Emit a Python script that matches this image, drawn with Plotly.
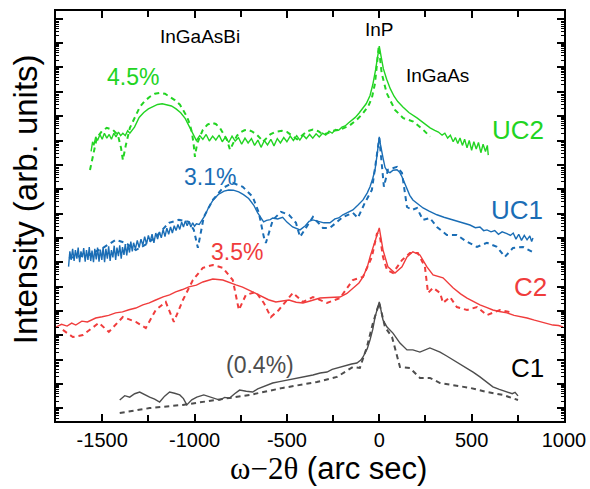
import plotly.graph_objects as go
import numpy as np

# ---------------- data (x in arc sec, y as log10 intensity, arb. units) ----------------
uc2_meas_x = [-1560, -1552, -1545, -1535, -1525, -1512, -1500, -1488, -1475, -1462, -1450, -1437, -1425,
              -1412, -1400, -1388, -1375, -1362, -1350, -1337, -1325, -1300, -1275, -1250, -1225, -1200,
              -1175, -1150, -1125, -1100, -1075, -1050, -1025, -1005,
              -990, -972, -955, -937, -920, -902, -885, -867, -850, -832, -815, -797, -780, -762, -745,
              -727, -710, -692, -675, -657, -640, -622, -605, -587, -570, -552, -535, -517, -500, -482,
              -465, -447, -430, -412, -395, -377, -360, -342, -325, -307, -290, -272, -255, -237, -220,
              -202, -185, -167, -150, -130, -110, -90, -70, -50, -35, -20, -10, 0, 10, 22, 40, 60, 80,
              100, 128, 160, 204, 240, 275, 300, 320, 340, 355, 370, 385, 400, 412, 425, 437, 450, 462,
              475, 487, 500, 512, 525, 537, 550, 562, 575, 585, 590]
uc2_meas_log = [10.55, 10.95, 10.80, 11.15, 11.00, 11.25, 11.05, 11.30, 11.10, 11.25, 11.05, 11.30, 11.15,
                11.35, 11.20, 11.30, 11.20, 11.40, 11.30, 11.45, 11.55, 11.95, 12.15, 12.30, 12.40, 12.48,
                12.51, 12.48, 12.42, 12.30, 12.14, 11.90, 11.55, 11.25,
                11.00, 11.20, 11.05, 11.25, 10.98, 11.18, 11.02, 11.22, 10.95, 11.15, 10.92, 11.18, 10.98,
                11.12, 10.85, 11.10, 10.90, 11.08, 10.80, 11.02, 10.72, 11.00, 10.82, 11.05, 10.78, 11.08,
                10.90, 11.12, 10.95, 11.18, 11.00, 11.20, 11.02, 11.22, 11.08, 11.25, 11.10, 11.28, 11.15,
                11.30, 11.22, 11.38, 11.30, 11.45, 11.42, 11.55, 11.60, 11.72, 11.82, 11.95, 12.12, 12.30,
                12.52, 12.85, 13.30, 13.90, 14.40, 14.88, 14.45, 13.95, 13.52, 13.12, 12.82, 12.60, 12.38,
                12.15, 11.93, 11.72, 11.52, 11.42, 11.35, 11.22, 11.30, 11.10, 11.22, 10.95, 11.12, 10.88,
                11.10, 10.80, 11.05, 10.70, 11.00, 10.60, 10.95, 10.65, 10.92, 10.50, 10.85, 10.55, 10.80,
                10.40]

uc2_sim_x = [-1566, -1550, -1529, -1500, -1475, -1442, -1415, -1398, -1388, -1372, -1350, -1320, -1296,
             -1270, -1242, -1215, -1188, -1160, -1133, -1105, -1079, -1060, -1041, -1025, -1014, -1005,
             -998, -990, -982, -955, -930, -906, -885, -863, -845, -825, -808, -795, -787, -770, -754,
             -730, -711, -690, -662, -645, -630, -610, -590, -560, -527, -500, -470, -445, -420, -390,
             -359, -330, -305, -280, -250, -213, -160, -122, -90, -60, -40, -23, -3, 13, 40, 85, 130,
             184, 238, 275]
uc2_sim_log = [9.79, 10.41, 11.11, 11.40, 11.52, 11.44, 11.23, 10.70, 10.20, 10.81, 11.52, 12.00, 12.38,
               12.62, 12.80, 12.92, 12.96, 12.92, 12.80, 12.65, 12.47, 12.25, 11.98, 11.65, 11.32, 10.85,
               10.33, 10.70, 10.95, 11.44, 11.65, 11.73, 11.68, 11.52, 11.30, 11.03, 10.62, 10.85, 10.95,
               11.20, 11.32, 11.42, 11.44, 11.38, 11.23, 11.10, 10.95, 11.10, 11.25, 11.36, 11.40, 11.35,
               11.20, 11.05, 11.20, 11.38, 11.45, 11.38, 11.25, 11.30, 11.40, 11.44, 11.62, 11.85, 12.10,
               12.40, 12.75, 13.35, 14.86, 13.77, 12.95, 12.26, 11.92, 11.78, 11.44, 11.16]

uc1_meas_x = [-1682, -1675, -1668, -1660, -1652, -1645, -1637, -1630, -1622, -1615, -1607, -1600, -1592,
              -1585, -1577, -1570, -1562, -1555, -1547, -1540, -1532, -1525, -1517, -1510, -1502, -1495,
              -1487, -1480, -1472, -1465, -1457, -1450, -1442, -1435, -1427, -1420, -1412, -1405, -1397,
              -1390, -1382, -1375, -1367, -1360, -1352, -1345, -1337, -1330, -1320, -1310, -1300, -1290,
              -1280, -1270, -1260, -1250, -1240, -1230, -1220, -1210, -1200, -1190, -1180, -1170, -1160,
              -1150, -1140, -1130, -1120, -1110, -1100, -1090, -1080, -1070, -1060, -1050, -1040, -1030,
              -1020, -1010, -1000, -990, -975, -960, -945, -923, -900, -869, -840, -815, -790, -761, -735,
              -707, -680, -658, -640, -626, -610, -590, -577, -550, -523, -500, -469, -450, -429, -400,
              -380, -359, -330, -300, -267, -240, -220, -197, -170, -143, -115, -88, -65, -50, -35, -23,
              -12, -5, 0, 6, 12, 20, 31, 45, 58, 75, 96, 110, 123, 136, 150, 165, 182, 210, 237, 270, 312,
              350, 399, 440, 491, 520, 545, 565, 583, 605, 625, 645, 665, 691, 710, 725, 740, 755, 770,
              785, 800, 815, 825, 832]
uc1_meas_log = [5.82, 6.45, 6.10, 6.55, 6.05, 6.50, 6.15, 6.60, 6.00, 6.45, 6.20, 6.58, 6.02, 6.50, 6.10,
                6.62, 6.05, 6.48, 6.00, 6.55, 6.12, 6.60, 6.02, 6.52, 6.10, 6.62, 6.00, 6.55, 6.15, 6.65,
                6.05, 6.50, 6.20, 6.68, 6.10, 6.60, 6.25, 6.70, 6.15, 6.62, 6.30, 6.75, 6.28, 6.72, 6.40,
                6.85, 6.45, 6.80, 6.55, 6.90, 6.60, 6.95, 6.70, 7.05, 6.75, 7.10, 6.85, 7.15, 6.80, 7.20,
                6.95, 7.25, 7.00, 7.35, 7.05, 7.40, 7.15, 7.45, 7.20, 7.50, 7.30, 7.55, 7.35, 7.65, 7.45,
                7.70, 7.50, 7.68, 7.45, 7.62, 7.48, 7.58, 7.55, 7.72, 7.90, 8.27, 8.55, 8.80, 8.92, 8.97,
                8.96, 8.89, 8.78, 8.62, 8.35, 8.03, 7.80, 7.66, 7.72, 7.75, 7.82, 7.78, 7.85, 7.65, 7.45,
                7.40, 7.33, 7.50, 7.68, 7.74, 7.68, 7.62, 7.62, 7.78, 7.82, 7.95, 8.05, 8.15, 8.35, 8.56,
                8.85, 9.10, 9.45, 9.80, 10.40, 10.95, 11.15, 10.85, 10.55, 10.30, 9.90, 9.72, 9.68, 9.78,
                9.80, 9.70, 9.51, 9.25, 8.97, 8.75, 8.56, 8.38, 8.23, 8.10, 7.95, 7.85, 7.74, 7.65, 7.53,
                7.42, 7.45, 7.30, 7.33, 7.25, 7.30, 7.15, 7.25, 7.18, 7.10, 7.20, 6.95, 7.15, 6.90, 7.10,
                6.92, 7.08, 6.85, 7.00]

uc1_sim_x = [-1680, -1572, -1496, -1426, -1372, -1318, -1260, -1210, -1139, -1085, -1031, -1004, -982,
             -950, -901, -847, -793, -739, -685, -652, -625, -614, -576, -532, -489, -451, -429, -359,
             -305, -267, -197, -143, -116, -78, -40, -13, 0, 15, 25, 47, 96, 123, 150, 177, 204, 236,
             274, 312, 366, 420, 475, 529, 583, 637, 680, 724, 778, 827]
uc1_sim_log = [6.18, 6.30, 6.59, 6.92, 6.79, 6.50, 6.75, 7.04, 7.62, 7.74, 7.66, 7.33, 6.59, 7.86, 8.56,
               9.05, 9.26, 9.10, 8.69, 8.03, 7.04, 6.79, 7.74, 8.07, 7.95, 7.62, 7.04, 7.86, 7.41, 7.41,
               7.86, 8.03, 7.82, 8.44, 8.97, 10.49, 11.10, 9.92, 9.10, 9.80, 9.92, 9.67, 8.27, 8.15, 8.23,
               7.74, 7.82, 7.45, 7.12, 7.12, 6.84, 6.63, 6.80, 6.63, 6.22, 6.59, 6.63, 6.43]

c2_meas_x = [-1751, -1720, -1690, -1665, -1643, -1610, -1580, -1535, -1500, -1465, -1427, -1390, -1355,
             -1318, -1280, -1245, -1210, -1170, -1135, -1102, -1065, -1031, -990, -955, -901, -847, -776,
             -740, -706, -670, -630, -600, -560, -520, -489, -450, -413, -370, -321, -270, -213, -175,
             -143, -110, -88, -65, -50, -35, -18, 0, 20, 47, 85, 123, 150, 182, 220, 258, 291, 320, 345,
             399, 440, 475, 510, 545, 580, 615, 650, 691, 730, 765, 800, 840, 875, 908, 940, 970, 995]
c2_meas_log = [3.34, 3.45, 3.38, 3.50, 3.42, 3.58, 3.55, 3.71, 3.76, 3.82, 3.92, 3.96, 4.05, 4.12, 4.25,
               4.33, 4.45, 4.58, 4.66, 4.78, 4.88, 4.99, 5.06, 5.19, 5.31, 5.27, 5.07, 4.98, 4.86, 4.72,
               4.57, 4.46, 4.37, 4.40, 4.45, 4.36, 4.33, 4.42, 4.53, 4.55, 4.57, 4.72, 4.95, 5.15, 5.40,
               5.80, 6.22, 6.60, 7.04, 7.41, 6.51, 5.81, 5.56, 5.81, 6.22, 6.43, 6.30, 5.81, 5.48, 5.42,
               5.36, 4.95, 4.70, 4.53, 4.38, 4.25, 4.15, 4.04, 3.98, 3.92, 3.82, 3.78, 3.71, 3.62, 3.55,
               3.51, 3.42, 3.40, 3.34]

c2_sim_x = [-1713, -1659, -1605, -1518, -1464, -1388, -1318, -1264, -1210, -1156, -1112, -1063, -1009,
            -955, -901, -847, -793, -760, -722, -668, -625, -587, -544, -468, -413, -359, -283, -213,
            -143, -88, -40, -12, 4, 20, 42, 74, 123, 166, 209, 247, 264, 291, 329, 345, 383, 420, 475,
            529, 583, 653, 724]
c2_sim_log = [3.22, 2.93, 3.01, 3.51, 3.14, 3.75, 3.55, 3.30, 4.04, 4.37, 3.55, 4.45, 5.27, 5.77, 5.89,
              5.77, 5.27, 4.04, 4.66, 4.78, 4.33, 3.75, 4.04, 4.74, 4.37, 4.57, 4.33, 4.53, 5.27, 5.40,
              6.22, 7.20, 7.04, 6.22, 5.68, 5.56, 6.09, 6.38, 6.38, 5.81, 4.74, 4.95, 4.74, 4.33, 4.57,
              4.16, 4.04, 4.16, 3.83, 4.04, 3.92]

c1_meas_x = [-1405, -1378, -1351, -1324, -1297, -1270, -1243, -1216, -1189, -1162, -1135, -1108, -1080,
             -1060, -1042, -1015, -988, -950, -918, -890, -864, -837, -810, -783, -756, -720, -685, -658,
             -631, -604, -577, -540, -500, -465, -429, -395, -359, -320, -283, -255, -229, -200, -175,
             -150, -121, -100, -88, -65, -50, -35, -23, -10, 0, 10, 20, 42, 74, 112, 150, 182, 220, 274,
             329, 365, 399, 440, 475, 510, 545, 580, 615, 650, 691, 720, 735, 751]
c1_meas_log = [0.34, 0.52, 0.46, 0.60, 0.67, 0.55, 0.46, 0.38, 0.26, 0.50, 0.67, 0.62, 0.55, 0.40, 0.14,
               0.35, 0.46, 0.55, 0.46, 0.40, 0.34, 0.45, 0.42, 0.60, 0.75, 0.70, 0.67, 0.80, 0.88, 0.95,
               1.04, 1.10, 1.16, 1.22, 1.25, 1.30, 1.37, 1.45, 1.49, 1.60, 1.66, 1.72, 1.78, 1.82, 1.86,
               1.98, 2.11, 2.45, 2.81, 3.25, 3.75, 4.10, 4.37, 4.00, 3.63, 3.34, 3.09, 2.68, 2.40, 2.40,
               2.31, 2.48, 2.31, 2.15, 1.99, 1.82, 1.66, 1.48, 1.29, 1.08, 0.88, 0.78, 0.67, 0.60, 0.66,
               0.51]

c1_sim_x = [-1405, -1243, -1064, -880, -701, -522, -338, -229, -143, -105, -67, -34, 0, 31, 69, 112, 166,
            220, 274, 329, 399, 491, 583, 670, 751]
c1_sim_log = [-0.19, 0.01, 0.14, 0.34, 0.55, 0.84, 1.08, 1.29, 1.70, 1.66, 2.52, 3.51, 4.33, 3.34, 2.93,
              1.70, 1.66, 1.25, 1.25, 1.04, 0.96, 0.84, 0.67, 0.55, 0.34]

x_tick_vals = [-1500, -1000, -500, 0, 500, 1000]
x_tick_text = ["-1500", "-1000", "-500", "0", "500", "1000"]

GREEN = "#22d422"
BLUE = "#1a6db5"
RED = "#f03c3c"
GRAY = "#4d4d4d"

fig = go.Figure()

def add(xs, ls, color, dashed):
    fig.add_trace(go.Scatter(
        x=xs, y=10 ** np.array(ls), mode="lines",
        line=dict(color=color, width=2.0 if dashed else 1.4, dash="5px,4px" if dashed else "solid"),
        showlegend=False, hoverinfo="skip"))

add(uc2_sim_x, uc2_sim_log, GREEN, True)
add(uc2_meas_x, uc2_meas_log, GREEN, False)
add(uc1_sim_x, uc1_sim_log, BLUE, True)
add(uc1_meas_x, uc1_meas_log, BLUE, False)
add(c2_sim_x, c2_sim_log, RED, True)
add(c2_meas_x, c2_meas_log, RED, False)
add(c1_sim_x, c1_sim_log, GRAY, True)
add(c1_meas_x, c1_meas_log, GRAY, False)

FONT = "Liberation Sans, Arial, sans-serif"

labels = [
    ("InGaAsBi", -971, 15.26, "black", 19),
    ("InP", 0, 15.55, "black", 19),
    ("InGaAs", 317, 13.66, "black", 19),
    ("4.5%", -1333, 13.62, GREEN, 23),
    ("3.1%", -917, 9.51, BLUE, 23),
    ("3.5%", -771, 6.43, RED, 23),
    ("(0.4%)", -646, 1.78, GRAY, 23),
    ("UC2", 751, 11.44, GREEN, 26),
    ("UC1", 746, 8.15, BLUE, 26),
    ("C2", 816, 4.99, RED, 26),
    ("C1", 800, 1.66, "black", 26),
]
for t, x, y, c, s in labels:
    fig.add_annotation(x=x, y=y, text=t, showarrow=False, xanchor="center", yanchor="middle",
                       font=dict(family=FONT, size=s, color=c))

fig.add_annotation(xref="paper", yref="paper", x=-0.061, y=0.541, text="Intensity (arb. units)",
                   textangle=-90, showarrow=False, xanchor="center", yanchor="middle",
                   font=dict(family=FONT, size=33, color="black"))
fig.add_annotation(xref="paper", yref="paper", x=0.537, y=-0.115,
                   text='<span style="font-family:Liberation Serif, Times New Roman, serif">ω−2θ</span> (arc sec)',
                   showarrow=False, xanchor="center", yanchor="middle",
                   font=dict(family=FONT, size=31, color="black"))

major_y = [10.0 ** k for k in range(0, 17)]
minor_y = [m * 10.0 ** k for k in range(-1, 17) for m in range(2, 10)]

fig.update_layout(
    width=590, height=489,
    margin=dict(l=56, r=26, t=11, b=68, autoexpand=False),
    paper_bgcolor="white", plot_bgcolor="white",
    font=dict(family=FONT, color="black"),
    xaxis=dict(range=[-1750, 1000], tickmode="array", tickvals=x_tick_vals, ticktext=x_tick_text,
               ticks="inside", ticklen=7, tickwidth=1.5, tickcolor="black", automargin=False,
               minor=dict(tickmode="array", tickvals=[-1250, -750, -250, 250, 750], ticks="inside",
                          ticklen=6, tickwidth=1.5, tickcolor="black"),
               showline=True, linecolor="black", linewidth=1.5, mirror="ticks",
               showgrid=False, zeroline=False, tickfont=dict(size=20, family=FONT)),
    yaxis=dict(type="log", range=[-0.52, 16.32], tickmode="array", tickvals=major_y,
               showticklabels=False, ticks="inside", ticklen=7, tickwidth=1.5, tickcolor="black",
               automargin=False,
               minor=dict(tickmode="array", tickvals=minor_y, ticks="inside", ticklen=3.5,
                          tickwidth=1, tickcolor="black"),
               showline=True, linecolor="black", linewidth=1.5, mirror="ticks",
               showgrid=False, zeroline=False),
)

fig.write_html("out.html")
